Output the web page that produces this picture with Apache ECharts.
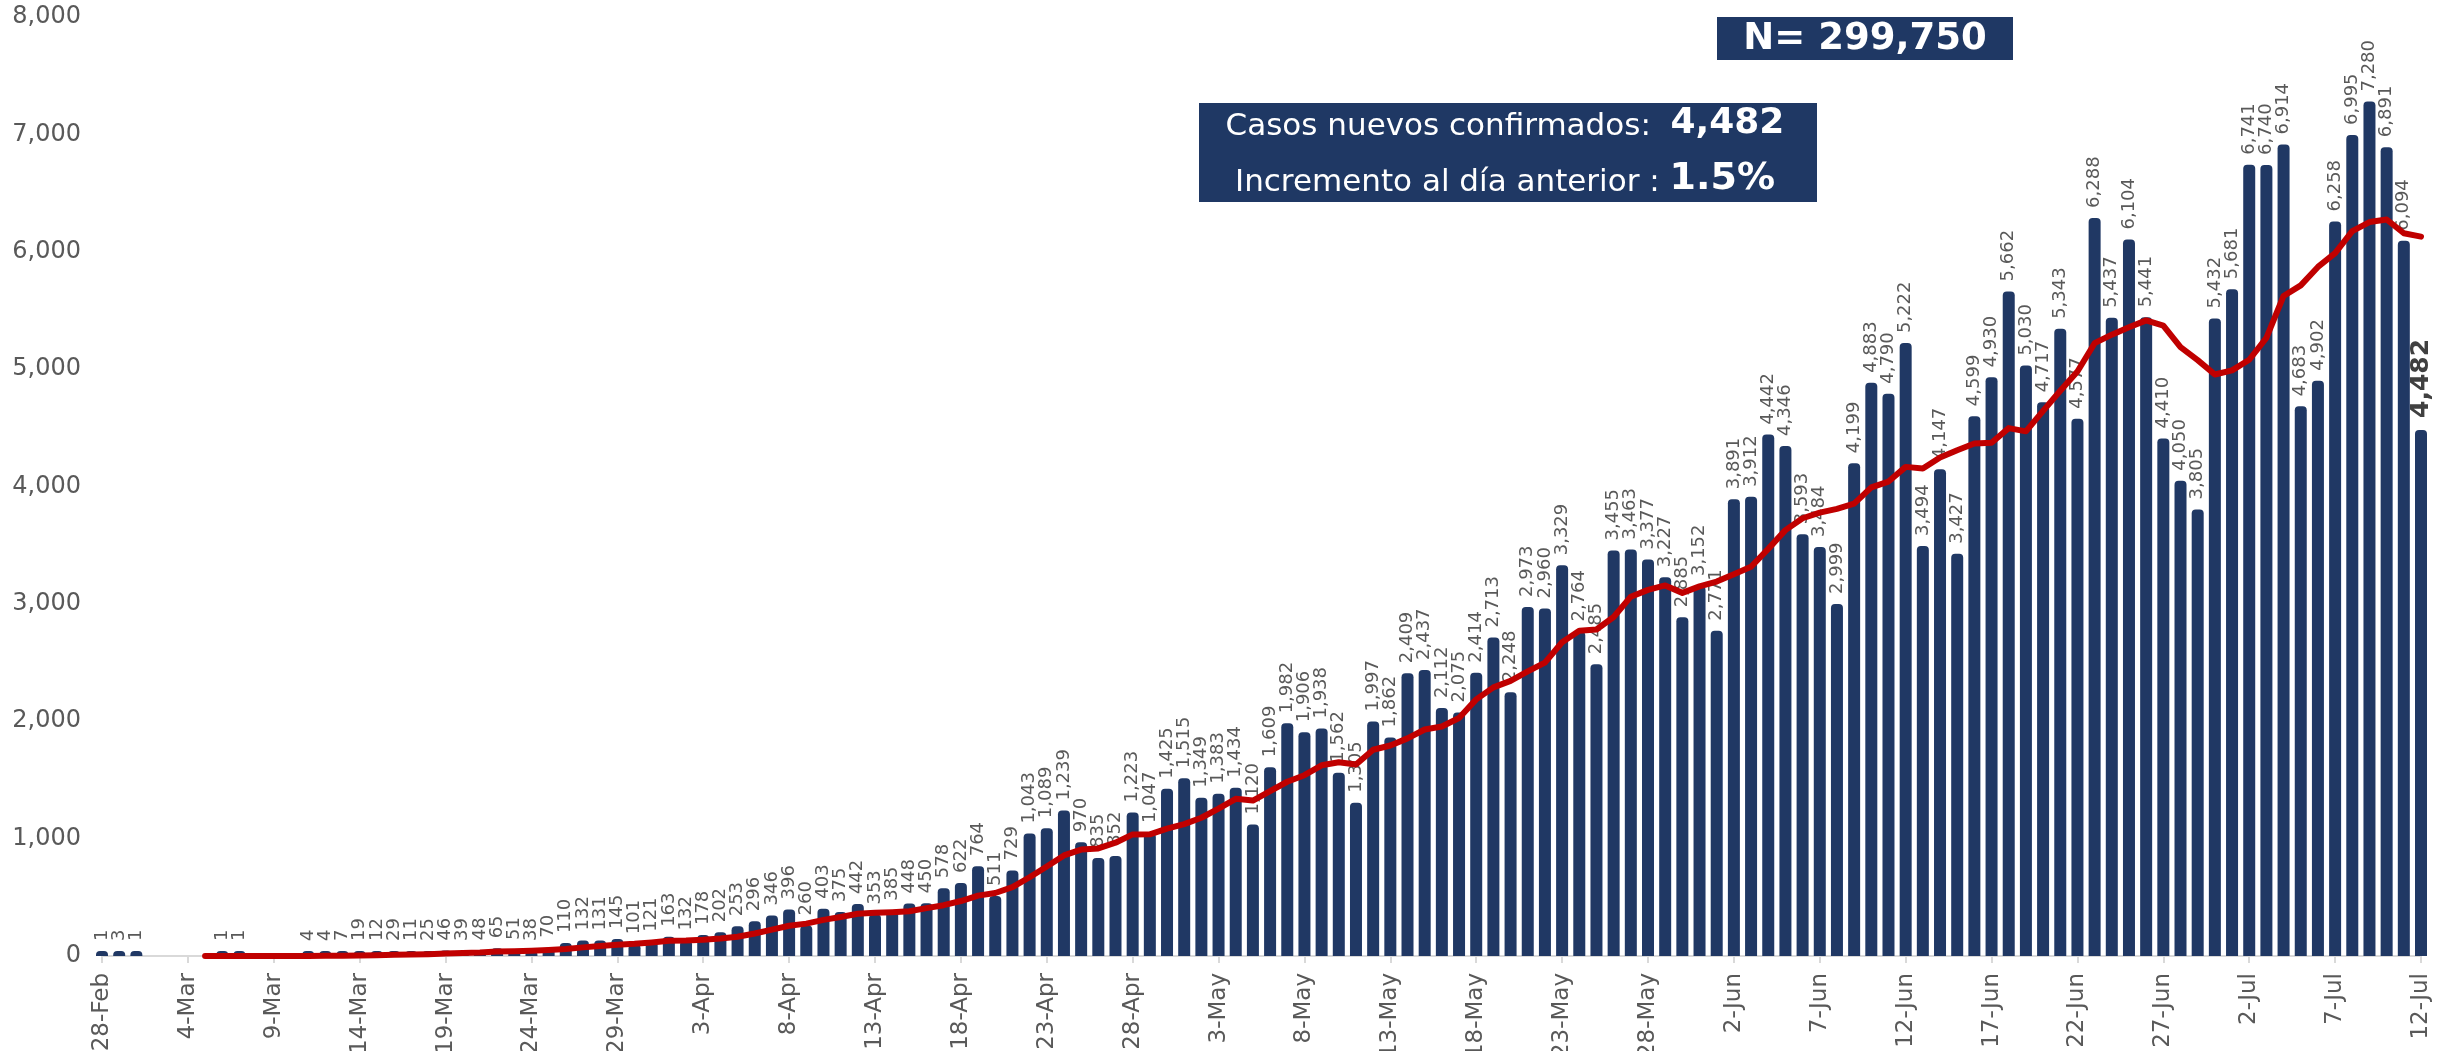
<!DOCTYPE html>
<html>
<head>
<meta charset="utf-8">
<script src="https://cdn.jsdelivr.net/npm/echarts@6/dist/echarts.min.js"></script>
<style>
  html, body { margin: 0; padding: 0; background: #fff; }
  #chart { width: 2450px; height: 1051px; }
</style>
</head>
<body>
<div id="chart"></div>
<script>
// casos nuevos confirmados por día (28-Feb .. 12-Jul)
var febCases = [1, 3];
var marCases = [1, 0, 0, 0, 0, 1, 1, 0, 0, 0, 4, 4, 7, 19, 12, 29, 11, 25, 46, 39,
                48, 65, 51, 38, 70, 110, 132, 131, 145, 101, 121];
var aprCases = [163, 132, 178, 202, 253, 296, 346, 396, 260, 403, 375, 442, 353, 385, 448,
                450, 578, 622, 764, 511, 729, 1043, 1089, 1239, 970, 835, 852, 1223, 1047, 1425];
var mayCases = [1515, 1349, 1383, 1434, 1120, 1609, 1982, 1906, 1938, 1562, 1305, 1997, 1862,
                2409, 2437, 2112, 2075, 2414, 2713, 2248, 2973, 2960, 3329, 2764, 2485, 3455,
                3463, 3377, 3227, 2885, 3152];
var junCases = [2771, 3891, 3912, 4442, 4346, 3593, 3484, 2999, 4199, 4883, 4790, 5222, 3494,
                4147, 3427, 4599, 4930, 5662, 5030, 4717, 5343, 4577, 6288, 5437, 6104, 5441,
                4410, 4050, 3805, 5432];
var julCases = [5681, 6741, 6740, 6914, 4683, 4902, 6258, 6995, 7280, 6891, 6094, 4482];

var months = [['Feb', 28, febCases], ['Mar', 1, marCases], ['Apr', 1, aprCases],
              ['May', 1, mayCases], ['Jun', 1, junCases], ['Jul', 1, julCases]];

var yTicks = [0, 1000, 2000, 3000, 4000, 5000, 6000, 7000, 8000];

var dates = [];
var cases = [];
months.forEach(function (m) {
  m[2].forEach(function (v, i) {
    dates.push((m[1] + i) + '-' + m[0]);
    cases.push(v);
  });
});

// media móvil de 7 días (línea roja)
var avg7 = cases.map(function (v, i) {
  if (i < 6) return '-';
  var s = 0;
  for (var k = i - 6; k <= i; k++) s += cases[k];
  return s / 7;
});

function fmt(n) { return Math.round(n).toLocaleString('en-US'); }

var font = 'DejaVu Sans';
var gray = '#595959';
var navy = '#203864';

var barData = cases.map(function (v, i) {
  if (!v) return '-';
  if (i === cases.length - 1) {
    return { value: v, label: { fontWeight: 'bold', fontSize: 25, color: '#404040', distance: 12 } };
  }
  return v;
});

var chart = echarts.init(document.getElementById('chart'));
chart.setOption({
  animation: false,
  grid: { left: 102, right: 29, top: 17, bottom: 95, containLabel: false, outerBoundsMode: 'none' },
  xAxis: {
    type: 'category',
    data: dates,
    boundaryGap: false,
    axisLine: { lineStyle: { color: '#D9D9D9', width: 2 } },
    axisTick: { interval: 4, length: 7, lineStyle: { color: '#D9D9D9', width: 2 } },
    axisLabel: { interval: 4, rotate: 90, margin: 17, fontSize: 23, color: gray, fontFamily: font }
  },
  yAxis: {
    type: 'value',
    min: yTicks[0],
    max: yTicks[yTicks.length - 1],
    interval: 1000,
    splitLine: { show: false },
    axisLine: { show: false },
    axisTick: { show: false },
    axisLabel: { margin: 21, fontSize: 24, color: gray, fontFamily: font,
                 formatter: function (v) { return fmt(v); } }
  },
  series: [
    {
      type: 'bar',
      data: barData,
      barWidth: 12,
      barMinHeight: 5,
      itemStyle: { color: navy, borderRadius: [4, 4, 0, 0] },
      label: {
        show: true,
        position: 'top',
        rotate: 90,
        align: 'left',
        verticalAlign: 'middle',
        distance: 10,
        fontSize: 18,
        color: gray,
        fontFamily: font,
        formatter: function (p) { return fmt(p.value); }
      }
    },
    {
      type: 'line',
      data: avg7,
      symbol: 'none',
      z: 5,
      lineStyle: { color: '#C00000', width: 6, cap: 'round', join: 'round' }
    }
  ],
  graphic: [
    { type: 'rect', shape: { x: 1717, y: 17, width: 296, height: 43 }, style: { fill: '#1F3864' } },
    { type: 'text', x: 1865, y: 39,
      style: { text: 'N= 299,750', fill: '#fff', fontSize: 37, fontWeight: 'bold', fontFamily: font,
               textAlign: 'center', textVerticalAlign: 'middle' } },
    { type: 'rect', shape: { x: 1199, y: 103, width: 618, height: 99 }, style: { fill: '#1F3864' } },
    { type: 'text', x: 1505, y: 124,
      style: { text: '{a|Casos nuevos confirmados:  }{b|4,482}', fill: '#fff', fontFamily: font,
               textAlign: 'center', textVerticalAlign: 'middle',
               rich: { a: { fontSize: 31, fontFamily: font, verticalAlign: 'bottom' },
                       b: { fontSize: 36, fontWeight: 'bold', fontFamily: font, verticalAlign: 'bottom' } } } },
    { type: 'text', x: 1505, y: 179,
      style: { text: '{a|Incremento al día anterior : }{b|1.5%}', fill: '#fff', fontFamily: font,
               textAlign: 'center', textVerticalAlign: 'middle',
               rich: { a: { fontSize: 31, fontFamily: font, verticalAlign: 'bottom' },
                       b: { fontSize: 38, fontWeight: 'bold', fontFamily: font, verticalAlign: 'bottom' } } } }
  ]
});
</script>
</body>
</html>
